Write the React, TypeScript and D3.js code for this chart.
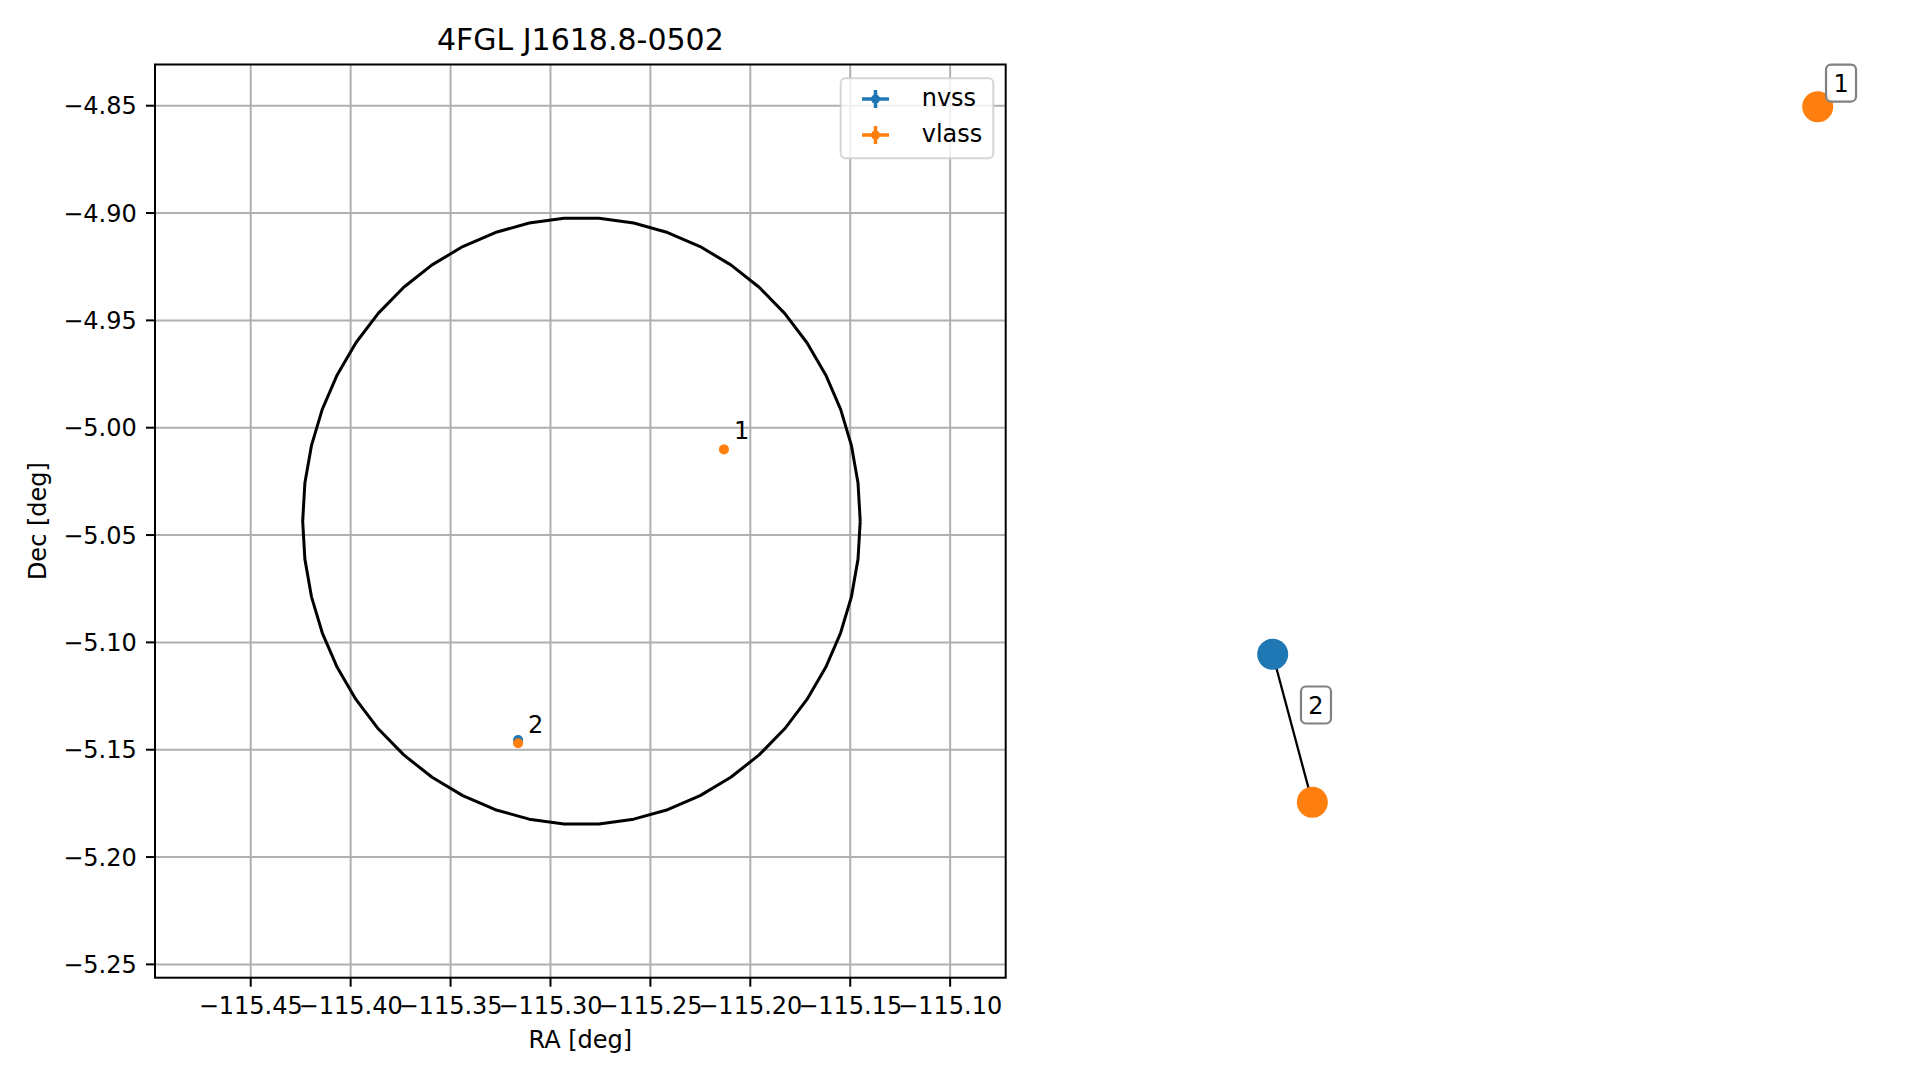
import * as d3 from 'd3';
import React from 'react';

// sources, in degrees
const nvssIds = ['2'];
const nvssRa = [-115.3162];
const nvssDec = [-5.1455];

const vlassIds = ['1', '2'];
const vlassRa = [-115.2132, -115.3162];
const vlassDec = [-5.0101, -5.147];

// 4FGL error ellipse
const ellipseCenter = [-115.2845, -5.0435];
const ellipseAxes = [0.1395, 0.14135];
const ellipseVertices = 50;

const xTicks = [-115.45, -115.4, -115.35, -115.3, -115.25, -115.2, -115.15, -115.1];
const yTicks = [-4.85, -4.9, -4.95, -5.0, -5.05, -5.1, -5.15, -5.2, -5.25];

// match graph (layout coordinates)
const nodeNames = ['nvss 2', 'vlass 2', 'vlass 1'];
const nodeSurvey = ['nvss', 'vlass', 'vlass'];
const nodeX = [0, 0.0727, 1];
const nodeY = [0.2128, 0, 1];
const edges = [[0, 1]];
const groupLabels = ['1', '2'];
const groupLabelX = [1.0428, 0.0794];
const groupLabelY = [1.034, 0.1399];

const colors: Record<string, string> = { nvss: '#1f77b4', vlass: '#ff7f0e' };
const font = 'DejaVu Sans, sans-serif';
const minus = (s: string) => s.replace('-', '\u2212');

export default function App() {
  const W = 1919;
  const H = 1080;
  const left = 155, right = 1005.7, top = 64.5, bottom = 977.7;

  const x = d3.scaleLinear().domain([-115.4979, -115.0722]).range([left, right]);
  const y = d3.scaleLinear().domain([-4.8308, -5.2562]).range([top, bottom]);

  const gx = d3.scaleLinear().domain([0, 1]).range([1272.7, 1817.7]);
  const gy = d3.scaleLinear().domain([0, 1]).range([802.3, 106.7]);

  const ring = d3.range(ellipseVertices + 1).map((i) => {
    const t = (i / ellipseVertices) * 2 * Math.PI;
    return [
      ellipseCenter[0] + ellipseAxes[0] * Math.cos(t),
      ellipseCenter[1] + ellipseAxes[1] * Math.sin(t),
    ] as [number, number];
  });
  const ringPath = d3
    .line<[number, number]>()
    .x((d) => x(d[0]))
    .y((d) => y(d[1]))(ring);

  const fmt = d3.format('.2f');

  return (
    <svg
      width={W}
      height={H}
      style={{ position: 'absolute', left: 0, top: 0, background: '#fff' }}
      fontFamily={font}
    >
      <defs>
        <clipPath id="plot">
          <rect x={left} y={top} width={right - left} height={bottom - top} />
        </clipPath>
      </defs>

      {/* grid */}
      <g stroke="#b0b0b0" strokeWidth={2}>
        {xTicks.map((t) => (
          <line key={'gx' + t} x1={x(t)} x2={x(t)} y1={top} y2={bottom} />
        ))}
        {yTicks.map((t) => (
          <line key={'gy' + t} x1={left} x2={right} y1={y(t)} y2={y(t)} />
        ))}
      </g>

      <g clipPath="url(#plot)">
        <path d={ringPath ?? ''} fill="none" stroke="#000" strokeWidth={3} strokeLinejoin="round" />

        {nvssRa.map((ra, i) => (
          <circle key={'n' + nvssIds[i]} cx={x(ra)} cy={y(nvssDec[i])} r={5} fill={colors.nvss} />
        ))}
        {vlassRa.map((ra, i) => (
          <circle key={'v' + vlassIds[i]} cx={x(ra)} cy={y(vlassDec[i])} r={5} fill={colors.vlass} />
        ))}
        {vlassRa.map((ra, i) => (
          <text key={'t' + vlassIds[i]} x={x(ra) + 10} y={y(vlassDec[i]) - 10} fontSize={24}>
            {vlassIds[i]}
          </text>
        ))}
      </g>

      {/* frame */}
      <rect x={left} y={top} width={right - left} height={bottom - top} fill="none" stroke="#000" strokeWidth={2} />

      {/* x ticks */}
      <g fontSize={24} textAnchor="middle">
        {xTicks.map((t) => (
          <g key={'xt' + t}>
            <line x1={x(t)} x2={x(t)} y1={bottom} y2={bottom + 9} stroke="#000" strokeWidth={2} />
            <text x={x(t)} y={1014.3}>{minus(fmt(t))}</text>
          </g>
        ))}
      </g>
      {/* y ticks */}
      <g fontSize={24} textAnchor="end">
        {yTicks.map((t) => (
          <g key={'yt' + t}>
            <line x1={left - 9} x2={left} y1={y(t)} y2={y(t)} stroke="#000" strokeWidth={2} />
            <text x={136.7} y={y(t)} dy="0.36em">{minus(fmt(t))}</text>
          </g>
        ))}
      </g>

      <text x={(left + right) / 2} y={1048} fontSize={24} textAnchor="middle">RA [deg]</text>
      <text
        transform={`translate(46,${(top + bottom) / 2}) rotate(-90)`}
        fontSize={24}
        textAnchor="middle"
      >
        Dec [deg]
      </text>
      <text x={(left + right) / 2} y={50} fontSize={30} textAnchor="middle">4FGL J1618.8-0502</text>

      {/* legend */}
      <g>
        <rect
          x={840.7}
          y={78.3}
          width={152.6}
          height={80}
          rx={5}
          fill="#fff"
          fillOpacity={0.8}
          stroke="#cccccc"
          strokeOpacity={0.8}
          strokeWidth={2}
        />
        {['nvss', 'vlass'].map((s, i) => {
          const cy = 99 + i * 36;
          return (
            <g key={s}>
              <line x1={862} x2={889} y1={cy} y2={cy} stroke={colors[s]} strokeWidth={3.5} />
              <line x1={875.5} x2={875.5} y1={cy - 9} y2={cy + 9} stroke={colors[s]} strokeWidth={3.5} />
              <circle cx={875.5} cy={cy} r={4.5} fill={colors[s]} />
              <text x={921.7} y={cy} dy="0.3em" fontSize={24}>{s}</text>
            </g>
          );
        })}
      </g>

      {/* match graph */}
      <g>
        {edges.map(([a, b], i) => (
          <line
            key={'e' + i}
            x1={gx(nodeX[a])}
            y1={gy(nodeY[a])}
            x2={gx(nodeX[b])}
            y2={gy(nodeY[b])}
            stroke="#000"
            strokeWidth={2.3}
          />
        ))}
        {nodeNames.map((n, i) => (
          <circle key={n} cx={gx(nodeX[i])} cy={gy(nodeY[i])} r={15.5} fill={colors[nodeSurvey[i]]} />
        ))}
        {groupLabels.map((l, i) => {
          const cx = gx(groupLabelX[i]);
          const cy = gy(groupLabelY[i]);
          return (
            <g key={'g' + l}>
              <rect
                x={cx - 15}
                y={cy - 18.5}
                width={30}
                height={37}
                rx={5}
                fill="#fff"
                fillOpacity={0.85}
                stroke="#808080"
                strokeWidth={2.2}
              />
              <text x={cx} y={cy} dy="0.36em" fontSize={24} textAnchor="middle">{l}</text>
            </g>
          );
        })}
      </g>
    </svg>
  );
}
